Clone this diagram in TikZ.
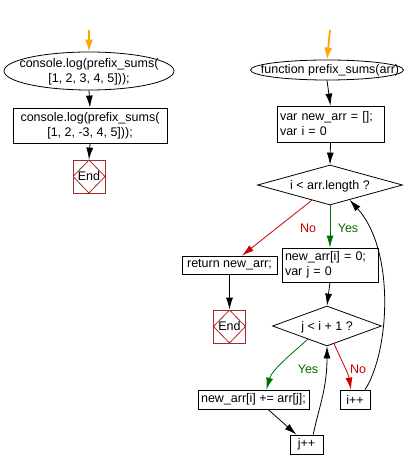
\documentclass[tikz,border=0pt]{standalone}
\usepackage{fontspec}
\setmainfont{Liberation Sans}
\usetikzlibrary{shapes.geometric,arrows.meta,calc}
\definecolor{startorange}{RGB}{255,165,0}
\definecolor{yesgreen}{RGB}{0,110,0}
\definecolor{nored}{RGB}{204,0,0}
\definecolor{endred}{RGB}{165,42,42}
\begin{document}
\begin{tikzpicture}[x=1pt,y=-1pt,
  font=\fontsize{12.5}{15}\selectfont,
  line width=0.8pt,
  >={Latex[length=12pt,width=7pt]},
  flow/.style={->,draw=black},
  startarrow/.style={->,draw=startorange,line width=1.8pt,>={Latex[length=12pt,width=8pt]}},
  yesarrow/.style={->,draw=yesgreen},
  noarrow/.style={->,draw=nored},
  yeslabel/.style={text=yesgreen,inner sep=0pt},
  nolabel/.style={text=nored,inner sep=0pt},
  oval/.style={draw,ellipse,inner sep=0pt},
  txt/.style={inner sep=0pt,align=center},
  box/.style={draw,rectangle,inner sep=3pt},
  cond/.style={draw,diamond,inner sep=0pt},
  endbox/.style={draw=endred,rectangle,inner sep=0pt,minimum width=32pt,minimum height=33pt,
    path picture={\draw[endred] (path picture bounding box.north) -- (path picture bounding box.east)
      -- (path picture bounding box.south) -- (path picture bounding box.west) -- cycle;}}
]
\useasboundingbox (0,0) rectangle (413,470);

% left column
\coordinate (s1) at (89,30);
\node[oval,minimum width=170pt,minimum height=38pt] (e1) at (89,71) {};
\node[txt] (e1t) at (89,72) {console.log(prefix\_sums(\\{[}1, 2, 3, 4, 5]));};
\node[box,minimum width=154pt,minimum height=35pt,align=center] (b1) at (90,125.5)
  {console.log(prefix\_sums(\\{[}1, 2, -3, 4, 5]));};
\node[endbox] (end1) at (89,176.5) {End};

\draw[startarrow] (s1) -- (e1.north);
\draw[flow] (e1.south) -- (b1.north);
\draw[flow] (b1.south) -- (end1.north);

% right column
\coordinate (s2) at (330,30);
\node[oval,minimum width=153pt,minimum height=20pt] (e2) at (327,70) {};
\node[txt] (e2t) at (330,70) {function prefix\_sums(arr)};
\node[box,minimum width=107pt,minimum height=36pt,text width=101pt,align=left] (b2) at (330.5,124)
  {var new\_arr = [];\\var i = 0};
\node[cond,minimum width=145pt,minimum height=40pt] (d1) at (330,185) {};
\node[txt] (d1t) at (330,186) {i < arr.length ?};
\node[box,minimum width=95pt,minimum height=18pt] (ret) at (229.5,265) {return new\_arr;};
\node[endbox] (end2) at (229.5,326.5) {End};
\node[box,minimum width=96pt,minimum height=34pt,text width=90pt,align=left] (b3) at (330,265)
  {new\_arr[i] = 0;\\var j = 0};
\node[cond,minimum width=109pt,minimum height=40pt] (d2) at (327,326) {};
\node[txt] (d2t) at (327,327) {j < i + 1 ?};
\node[box,minimum width=111pt,minimum height=19pt,inner xsep=0pt] (b4) at (253.5,399.5)
  {new\_arr[i] += arr[j];};
\node[box,minimum width=30pt,minimum height=19pt] (ipp) at (355,399.5) {i++};
\node[box,minimum width=33pt,minimum height=19pt] (jpp) at (306.5,444.5) {j++};

\node[yeslabel] (y1) at (348,228) {Yes};
\node[nolabel] (n1) at (308,228) {No};
\node[yeslabel] (y2) at (308,369) {Yes};
\node[nolabel] (n2) at (358,369) {No};

\draw[startarrow] (s2) -- (e2.north);
\draw[flow] (e2.south) -- (b2.north);
\draw[flow] (b2.south) -- (d1.north);
\draw[yesarrow] (d1.south) -- (b3.north);
\draw[noarrow] ($(d1.south)!0.25!(d1.west)$) -- ($(ret.north west)!0.63!(ret.north east)$);
\draw[flow] (ret.south) -- (end2.north);
\draw[flow] (b3.south) -- (d2.north);
\draw[yesarrow] ($(d2.south)!0.35!(d2.west)$) .. controls (290,355) and (272,370) .. ($(b4.north west)!0.615!(b4.north east)$);
\draw[noarrow] ($(d2.south)!0.13!(d2.east)$) .. controls (340,358) and (348,372) .. ($(ipp.north west)!0.37!(ipp.north east)$);
\draw[flow] ($(b4.south west)!0.63!(b4.south east)$) -- ($(jpp.north west)!0.2!(jpp.north east)$);
\draw[flow] ($(jpp.north west)!0.7!(jpp.north east)$) .. controls (318,410) and (327,390) .. (d2.south);
\draw[flow] ($(ipp.north west)!0.83!(ipp.north east)$) .. controls (390,350) and (395,250) .. ($(d1.south)!0.27!(d1.east)$);
\end{tikzpicture}
\end{document}
